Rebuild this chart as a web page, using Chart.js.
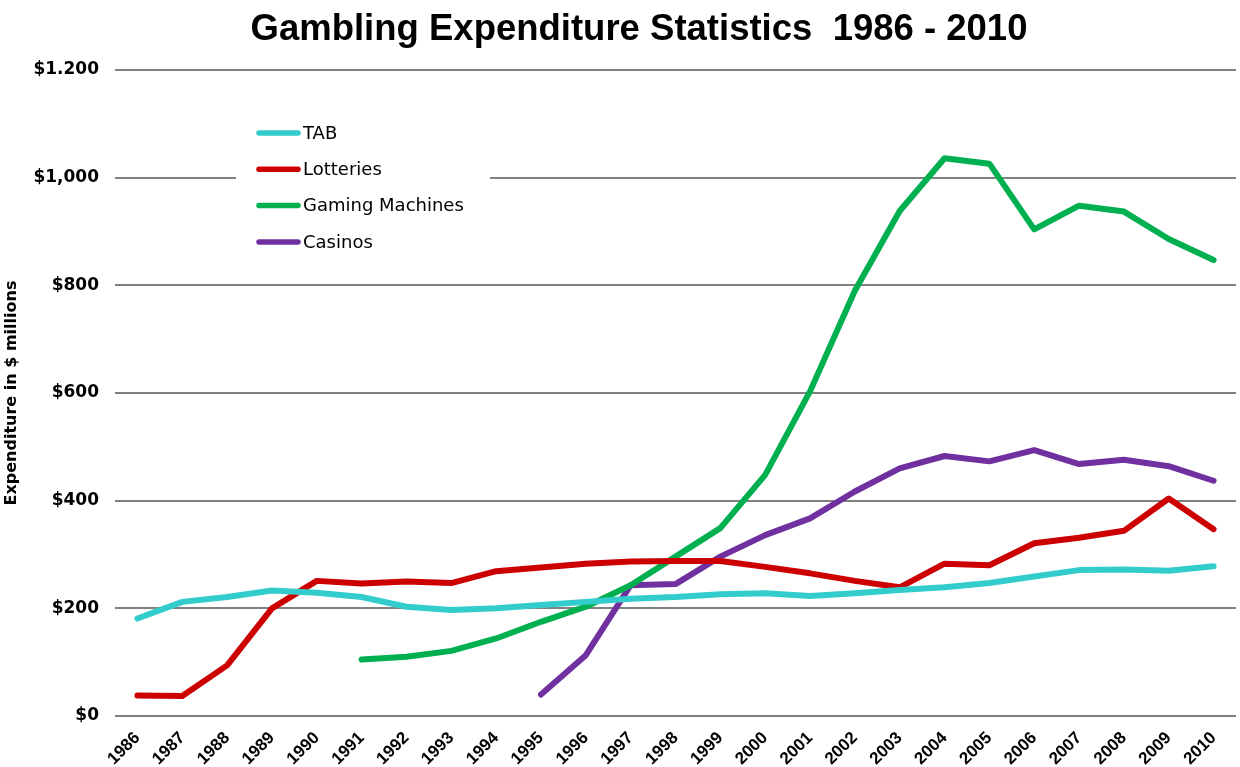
<!DOCTYPE html>
<html>
<head>
<meta charset="utf-8">
<title>Gambling Expenditure Statistics</title>
<script src="https://cdn.jsdelivr.net/npm/chart.js@4.4.1/dist/chart.umd.min.js"></script>
<style>
  html, body { margin: 0; padding: 0; background: #fff; }
  #wrap { width: 1240px; height: 767px; position: relative; }
</style>
</head>
<body>
<div id="wrap"><canvas id="gamblingChart"></canvas></div>
<script>
// Anos (eixo x)
const anos = ['1986', '1987', '1988', '1989', '1990', '1991', '1992', '1993', '1994', '1995',
  '1996', '1997', '1998', '1999', '2000', '2001', '2002', '2003', '2004', '2005',
  '2006', '2007', '2008', '2009', '2010'];

// Séries ($ milhões)
const tab = [181, 212, 221, 233, 229, 221, 203, 197, 200, 206,
  212, 218, 221, 226, 228, 223, 228, 234, 239, 247,
  259, 271, 272, 270, 278];
const lotteries = [38, 37, 94, 200, 251, 246, 250, 247, 269, 276,
  283, 287, 288, 288, 277, 265, 251, 239, 283, 280,
  321, 331, 344, 404, 347];
const gamingMachines = [null, null, null, null, null, 105, 110, 121, 144, 175,
  203, 243, 296, 349, 448, 603, 790, 938, 1036, 1026,
  904, 948, 937, 886, 847];
const casinos = [null, null, null, null, null, null, null, null, null, 40,
  113, 243, 245, 296, 336, 367, 417, 460, 483, 473,
  494, 468, 476, 464, 437];

// Rótulos do eixo y (o original mistura ponto e vírgula)
const yTicks = [0, 200, 400, 600, 800, 1000, 1200];
const yTickLabels = ['$0', '$200', '$400', '$600', '$800', '$1,000', '$1.200'];

const FONTE = '"Liberation Sans", Arial, sans-serif';
const FONTE_LARGA = '"DejaVu Sans", Verdana, sans-serif';

// Legenda desenhada dentro da área do gráfico, com fundo branco
const legendaInterna = {
  id: 'legendaInterna',
  afterLayout(chart) {
    // o título do original fica um pouco à direita do centro
    chart.titleBlock.left += 19;
    chart.titleBlock.right += 19;
  },
  afterDraw(chart) {
    const ctx = chart.ctx;
    ctx.save();
    ctx.fillStyle = '#ffffff';
    ctx.fillRect(236, 112, 254, 150);
    chart.data.datasets.forEach((ds, i) => {
      const y = 133 + i * 36.3;
      ctx.strokeStyle = ds.borderColor;
      ctx.lineWidth = 5.5;
      ctx.lineCap = 'round';
      ctx.beginPath();
      ctx.moveTo(259, y);
      ctx.lineTo(298, y);
      ctx.stroke();
      ctx.fillStyle = '#000';
      ctx.font = '18px ' + FONTE_LARGA;
      ctx.textAlign = 'left';
      ctx.textBaseline = 'middle';
      ctx.fillText(ds.label, 303, y + 1);
    });
    ctx.restore();
  }
};

function createGamblingChart() {
  const ctx = document.getElementById('gamblingChart').getContext('2d');

  const base = {
    borderWidth: 6,
    pointRadius: 0,
    pointHoverRadius: 0,
    tension: 0,
    fill: false,
    spanGaps: false,
    borderCapStyle: 'round',
    borderJoinStyle: 'round'
  };

  new Chart(ctx, {
    type: 'line',
    data: {
      labels: anos,
      datasets: [
        { ...base, label: 'TAB', data: tab, borderColor: '#33CCCC', backgroundColor: '#33CCCC' },
        { ...base, label: 'Lotteries', data: lotteries, borderColor: '#CC0000', backgroundColor: '#CC0000' },
        { ...base, label: 'Gaming Machines', data: gamingMachines, borderColor: '#00B050', backgroundColor: '#00B050' },
        { ...base, label: 'Casinos', data: casinos, borderColor: '#7030A0', backgroundColor: '#7030A0' }
      ]
    },
    options: {
      responsive: true,
      maintainAspectRatio: false,
      animation: false,
      layout: { padding: 0 },
      plugins: {
        legend: { display: false },
        tooltip: { enabled: false },
        title: {
          display: true,
          text: 'Gambling Expenditure Statistics  1986 - 2010',
          color: '#000',
          font: { family: FONTE, size: 36.5, weight: 'bold', lineHeight: 1.2 },
          padding: { top: 8, bottom: 18.2 }
        }
      },
      scales: {
        x: {
          offset: true,
          grid: { display: false, drawTicks: false },
          border: { display: false },
          ticks: {
            color: '#000',
            font: { family: FONTE, size: 17, weight: 'bold' },
            minRotation: 45,
            maxRotation: 45,
            autoSkip: false,
            padding: 12
          },
          afterFit(scale) { scale.height = 51; }
        },
        y: {
          min: 0,
          max: 1200,
          afterBuildTicks(scale) {
            scale.ticks = yTicks.map(v => ({ value: v }));
          },
          grid: { color: '#808080', lineWidth: 2, drawTicks: false },
          border: { display: false },
          ticks: {
            color: '#000',
            font: { family: FONTE_LARGA, size: 17, weight: 'bold' },
            padding: 16,
            callback: function(value) {
              const idx = yTicks.indexOf(value);
              return idx >= 0 ? yTickLabels[idx] : '';
            }
          },
          title: {
            display: true,
            text: 'Expenditure in $ millions',
            color: '#000',
            font: { family: FONTE_LARGA, size: 16, weight: 'bold' },
            padding: { top: 2, bottom: 0 }
          },
          afterFit(scale) { scale.width = 115; }
        }
      }
    },
    plugins: [legendaInterna]
  });
}

document.addEventListener('DOMContentLoaded', createGamblingChart);
</script>
</body>
</html>
